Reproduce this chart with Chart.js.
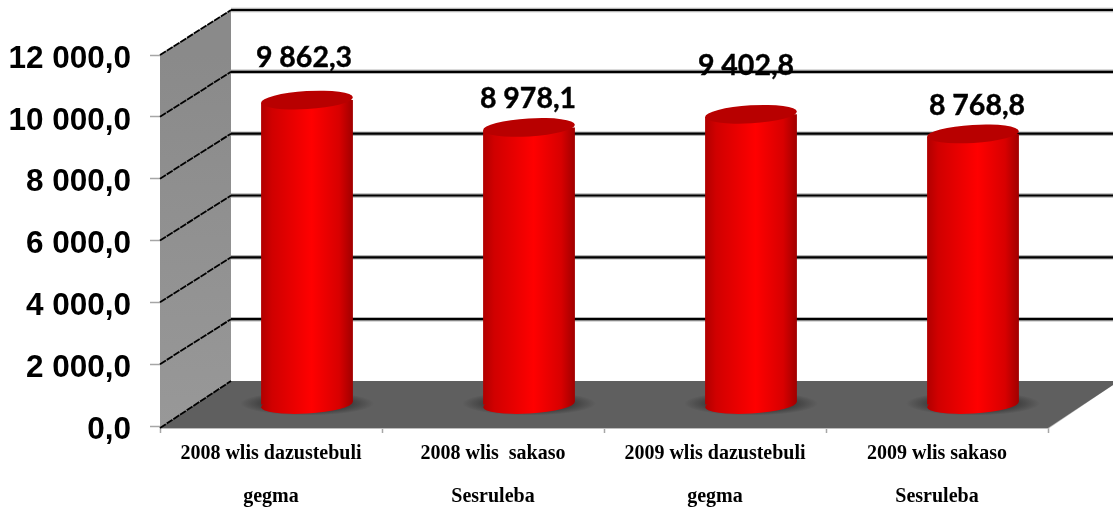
<!DOCTYPE html>
<html>
<head>
<meta charset="utf-8">
<script src="https://cdn.jsdelivr.net/npm/chart.js@4"></script>
<style>html,body{margin:0;padding:0;background:#fff}canvas{display:block}</style>
</head>
<body>
<canvas id="c" width="1113" height="508"></canvas>
<script>
const categories = [
  ["2008 wlis dazustebuli", "gegma"],
  ["2008 wlis  sakaso", "Sesruleba"],
  ["2009 wlis dazustebuli", "gegma"],
  ["2009 wlis sakaso", "Sesruleba"]
];
const seriesValues = [9862.3, 8978.1, 9402.8, 8768.8];
const tickValues = [0, 2000, 4000, 6000, 8000, 10000, 12000];

const WALL_DX = 71, WALL_DY = -45;   // depth of the 3D box
const BAR_DX = 36, BAR_DY = -21;     // depth of the cylinders
const CAP_RY = 9, TILT = -0.06;
const labelLift = [42, 29, 48, 28];  // label distance above the cylinder top
const labelShift = [-3, -1, -5, 4];

function fmtY(v){ return Math.floor(v).toString().replace(/\B(?=(\d{3})+$)/g,' ') + ',0'; }
function fmtV(v){ return v.toFixed(1).replace('.',',').replace(/\B(?=(\d{3})+,)/g,' '); }

function cylGrad(ctx, x, w){
  const g = ctx.createLinearGradient(x-w/2,0,x+w/2,0);
  g.addColorStop(0,'#b00000');
  g.addColorStop(0.12,'#d00000');
  g.addColorStop(0.55,'#ff0000');
  g.addColorStop(0.85,'#d80000');
  g.addColorStop(1,'#a00000');
  return g;
}
function softLine(ctx,x1,y1,x2,y2){
  ctx.strokeStyle='rgba(120,120,120,0.55)'; ctx.lineWidth=4.5;
  ctx.beginPath(); ctx.moveTo(x1,y1); ctx.lineTo(x2,y2); ctx.stroke();
  ctx.strokeStyle='#000'; ctx.lineWidth=2.2;
  ctx.beginPath(); ctx.moveTo(x1,y1); ctx.lineTo(x2,y2); ctx.stroke();
}

const box3d = {
  id:'box3d',
  beforeDatasetsDraw(chart){
    const {ctx,chartArea:a,scales:{y}} = chart;
    const y0=a.bottom, yT=a.top, W=chart.width;
    ctx.save();
    // floor
    ctx.fillStyle='#bdbdbd';
    ctx.beginPath();
    ctx.moveTo(a.left,y0+3); ctx.lineTo(a.left+WALL_DX,y0+WALL_DY);
    ctx.lineTo(a.right+WALL_DX,y0+WALL_DY);ctx.lineTo(a.right,y0+3);
    ctx.closePath(); ctx.fill();
    ctx.fillStyle='#5f5f5f';
    ctx.beginPath();
    ctx.moveTo(a.left,y0+2); ctx.lineTo(a.left+WALL_DX,y0+WALL_DY);
    ctx.lineTo(a.right+WALL_DX,y0+WALL_DY); ctx.lineTo(a.right,y0+2);
    ctx.closePath(); ctx.fill();
    // left wall
    const g=ctx.createLinearGradient(0,yT,0,y0);
    g.addColorStop(0,'#8a8a8a'); g.addColorStop(1,'#989898');
    ctx.fillStyle=g;
    ctx.beginPath();
    ctx.moveTo(a.left,yT); ctx.lineTo(a.left+WALL_DX,yT+WALL_DY);
    ctx.lineTo(a.left+WALL_DX,y0+WALL_DY); ctx.lineTo(a.left,y0+2);
    ctx.closePath(); ctx.fill();
    // gridlines on back wall and side wall
    tickValues.forEach(v=>{
      const py=y.getPixelForValue(v);
      if(v>0) softLine(ctx,a.left+WALL_DX,py+WALL_DY,W,py+WALL_DY);
      ctx.strokeStyle='#000'; ctx.lineWidth=1.8;
      ctx.setLineDash([7,1]);
      ctx.beginPath(); ctx.moveTo(a.left,py+(v===0?2:0)); ctx.lineTo(a.left+WALL_DX,py+WALL_DY); ctx.stroke();
      ctx.setLineDash([]);
    });
    // soft shadows under cylinders
    chart.getDatasetMeta(0).data.forEach(el=>{
      const cx=el.x+BAR_DX, cy=el.base+BAR_DY-1, rx=el.width/2+21, ry=CAP_RY+3;
      ctx.save();
      ctx.translate(cx,cy); ctx.scale(rx/ry,1);
      const r=ctx.createRadialGradient(0,0,ry*0.6,0,0,ry);
      r.addColorStop(0,'rgba(50,50,50,0.8)');
      r.addColorStop(1,'rgba(50,50,50,0)');
      ctx.fillStyle=r;
      ctx.beginPath(); ctx.arc(0,0,ry,0,Math.PI*2); ctx.fill();
      ctx.restore();
    });
    ctx.restore();
    ctx.save();
    ctx.translate(BAR_DX,BAR_DY);
  },
  beforeDatasetDraw(chart,args){
    // cut the square bar tops along the tilted cap
    const {ctx} = chart;
    ctx.save();
    ctx.beginPath();
    args.meta.data.forEach(el=>{
      const h=el.width/2, d=h*Math.tan(-TILT);
      ctx.moveTo(el.x-h,el.y+d); ctx.lineTo(el.x+h,el.y-d);
      ctx.lineTo(el.x+h,el.base-d); ctx.lineTo(el.x-h,el.base+d);
      ctx.closePath();
    });
    ctx.clip();
  },
  afterDatasetDraw(chart){ chart.ctx.restore(); },
  afterDatasetsDraw(chart){
    const {ctx} = chart;
    const els = chart.getDatasetMeta(0).data;
    els.forEach(el=>{
      ctx.fillStyle=cylGrad(ctx,el.x,el.width);
      ctx.beginPath(); ctx.ellipse(el.x,el.base,el.width/2,CAP_RY,TILT,0,Math.PI*2); ctx.fill();
      ctx.fillStyle='#b80000';
      ctx.beginPath(); ctx.ellipse(el.x,el.y,el.width/2,CAP_RY,TILT,0,Math.PI*2); ctx.fill();
    });
    ctx.restore();
    ctx.save();
    ctx.fillStyle='#000'; ctx.strokeStyle='#000'; ctx.lineWidth=0.4;
    ctx.font='bold 28.5px Lato';
    ctx.textAlign='center'; ctx.textBaseline='middle';
    els.forEach((el,i)=>{
      const t=fmtV(seriesValues[i]), x=el.x+BAR_DX+labelShift[i], y=el.y+BAR_DY-labelLift[i];
      ctx.fillText(t,x,y); ctx.strokeText(t,x,y);
    });
    ctx.restore();
  }
};

new Chart(document.getElementById('c'),{
  type:'bar',
  data:{labels:categories,datasets:[{
    data:seriesValues,
    clip:false,
    backgroundColor(c){
      const ch=c.chart;
      if(!ch.chartArea) return '#f00';
      const s=ch.scales.x, w=(s.width/categories.length)*0.414;
      return cylGrad(ch.ctx,s.getPixelForValue(c.dataIndex),w);
    },
    borderWidth:0,
    barPercentage:0.414,
    categoryPercentage:1
  }]},
  options:{
    responsive:false,
    animation:false,
    events:[],
    layout:{padding:{top:55,right:65,bottom:0,left:0}},
    plugins:{legend:{display:false},title:{display:false},tooltip:{enabled:false}},
    scales:{
      x:{
        afterFit(s){s.height=82;},
        border:{display:false},
        grid:{drawOnChartArea:false,drawTicks:true,tickLength:7,tickColor:'#a6a6a6',tickWidth:1.5,offset:true},
        ticks:{autoSkip:false,maxRotation:0,minRotation:0,padding:-1,color:'#000',
          font:{family:'"Liberation Serif"',size:20,weight:'bold',lineHeight:2.15}}
      },
      y:{
        min:0,max:12000,
        afterFit(s){s.width=160;},
        afterBuildTicks(s){s.ticks=tickValues.map(v=>({value:v}));},
        border:{display:false},
        grid:{drawOnChartArea:false,drawTicks:true,tickLength:10,tickColor:'#a6a6a6',tickWidth:1.5},
        ticks:{padding:19,labelOffset:4,color:'#000',callback:fmtY,
          font:{family:'"Liberation Sans"',size:31.5,weight:'bold'}}
      }
    }
  },
  plugins:[box3d]
});
</script>
</body>
</html>
